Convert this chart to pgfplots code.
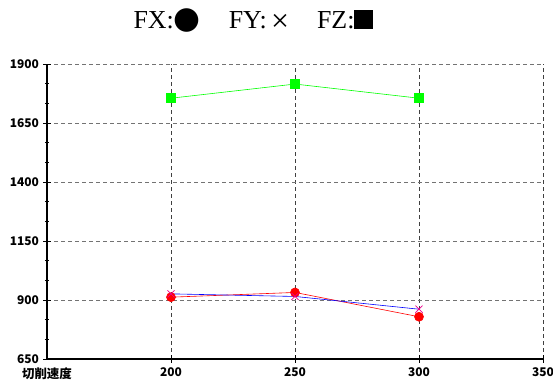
\documentclass[border=0pt]{standalone}
\usepackage{pgfplots}
\pgfplotsset{compat=1.18}
\usepackage{fontspec}
\setmainfont{Liberation Serif}
\newfontfamily\cjk{Noto Sans CJK SC}[BoldFont={Noto Sans CJK SC Black}]
\newfontfamily\dejavu{DejaVu Sans}
\begin{document}
\begin{tikzpicture}
\begin{axis}[
  scale only axis, width=496bp, height=295bp,
  xmin=150, xmax=350, ymin=650, ymax=1900,
  axis lines=left, axis line style={-, line width=1.4pt},
  xtick={200,250,300,350}, ytick={650,900,1150,1400,1650,1900},
  minor y tick num=2,
  tick align=center, major tick length=7bp, minor tick length=4bp,
  tick style={black, line width=0.9pt},
  grid=major,
  x grid style={dash pattern=on 4bp off 3bp, black!75, line width=0.6pt},
  y grid style={dash pattern=on 4bp off 3bp, black!55, line width=0.6pt},
  /pgf/number format/assume math mode=true,
  /pgf/number format/1000 sep={},
  ticklabel style={font=\cjk\bfseries\fontsize{12}{12}\selectfont},
  xticklabel style={yshift=-2bp},
  yticklabel style={xshift=-1bp},
  xlabel={切削速度},
  xlabel style={font=\cjk\bfseries\fontsize{12.5}{12.5}\selectfont, at={(rel axis cs:0,0)}, anchor=north, yshift=-5bp},
  clip=false,
]
\addplot[red, line width=0.6pt, mark=*, mark size=4.5bp, mark options={fill=red, draw=red}] coordinates {(200,912) (250,932) (300,829)};
\addplot[blue, line width=0.6pt, mark=x, mark size=5bp, mark options={draw=magenta, line width=0.7pt}] coordinates {(200,926) (250,915) (300,861)};
\addplot[green, line width=0.6pt, mark=square*, mark size=4.5bp, mark options={fill=green, draw=green}] coordinates {(200,1755) (250,1815) (300,1755)};
\end{axis}
\node[anchor=base, font=\fontsize{26}{26}\selectfont] at (206.5bp,330bp)
  {FX:{\dejavu\fontsize{31}{31}\selectfont ●}\hspace{28bp}FY:\,\raisebox{-3bp}{\fontsize{32}{32}\selectfont ×}\hspace{28bp}FZ:\rule{19bp}{19bp}};
\pgfresetboundingbox
\path[use as bounding box] (-47bp,-24bp) rectangle (506bp,359bp);
\end{tikzpicture}
\end{document}
